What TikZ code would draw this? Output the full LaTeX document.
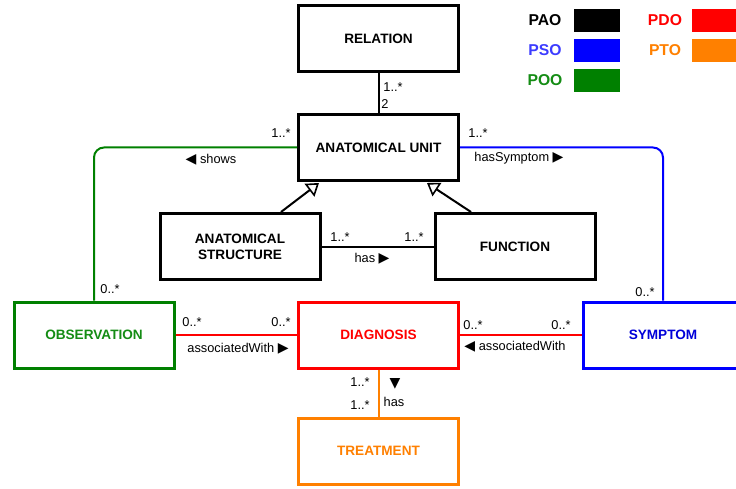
\documentclass[tikz,border=0pt]{standalone}
\usepackage{fontspec}
\setmainfont{Liberation Sans}
\newfontfamily\symfont{DejaVu Sans}
\usetikzlibrary{arrows.meta}
\definecolor{cgreen}{RGB}{0,128,0}
\definecolor{cgreentxt}{RGB}{20,140,20}
\definecolor{cblue}{RGB}{0,0,255}
\definecolor{cbluetxt}{RGB}{60,60,255}
\definecolor{cred}{RGB}{255,0,0}
\definecolor{corange}{RGB}{255,128,0}
\newcommand{\mytri}[1]{{\symfont\fontsize{14}{14}\selectfont #1}}
\begin{document}
\begin{tikzpicture}[x=1pt,y=-1pt,
  box/.style={draw,line width=3pt,minimum width=160pt,minimum height=66pt,
    font=\fontsize{13.6}{16}\selectfont\bfseries,align=center,fill=white,inner sep=0pt},
  lbl/.style={font=\fontsize{12.8}{14}\selectfont,inner sep=0pt},
  legtxt/.style={font=\fontsize{15.7}{18}\selectfont\bfseries,inner sep=0pt},
  legbox/.style={minimum width=46pt,minimum height=23pt,inner sep=0pt},
  conn/.style={line width=2pt},
  inh/.style={line width=2pt,-{Triangle[open,length=12pt,width=16pt,line width=1.6pt]}},
  tri/.style={font=\symfont\fontsize{14}{14}\selectfont,inner sep=0pt}
]
\useasboundingbox (0,0) rectangle (736,489);
\clip (0,0) rectangle (736,489);

% boxes
\node[box] (rel) at (378.5,38.5) {RELATION};
\node[box] (au) at (378.5,147.5) {ANATOMICAL UNIT};
\node[box] (as) at (240,246.5) {ANATOMICAL\\STRUCTURE};
\node[box] (fn) at (515,246.5) {FUNCTION};
\node[box,draw=cgreen,text=cgreentxt] (obs) at (94,335) {OBSERVATION};
\node[box,draw=cred,text=cred] (diag) at (378.5,335) {DIAGNOSIS};
\node[box,draw=cblue,text=cblue!85!black] (symp) at (663,335) {SYMPTOM};
\node[box,draw=corange,text=corange] (treat) at (378.5,451) {TREATMENT};

% legend
\node[legtxt] (lpao) at (545,20.5) {PAO};
\node[legbox,fill=black] (bpao) at (597,20.5) {};
\node[legtxt,text=cbluetxt] (lpso) at (545,50.5) {PSO};
\node[legbox,fill=cblue] (bpso) at (597,50.5) {};
\node[legtxt,text=cgreentxt] (lpoo) at (545,80.5) {POO};
\node[legbox,fill=cgreen] (bpoo) at (597,80.5) {};
\node[legtxt,text=cred] (lpdo) at (665,20.5) {PDO};
\node[legbox,fill=cred] (bpdo) at (715,20.5) {};
\node[legtxt,text=corange] (lpto) at (665,50.5) {PTO};
\node[legbox,fill=corange] (bpto) at (715,50.5) {};

% relation - au
\draw[conn] (rel.south) -- (au.north);
\node[lbl] (m1) at (393,87) {1..*};
\node[lbl] (m2) at (385,104) {2};

% inheritance
\coordinate (asT) at (281,212);
\coordinate (auL) at (319,183);
\coordinate (fnT) at (471,212);
\coordinate (auR) at (427,183);
\draw[inh] (asT) -- (auL);
\draw[inh] (fnT) -- (auR);

% has between structure and function
\draw[conn] (as.east) -- (fn.west);
\node[lbl] (h1) at (340,237) {1..*};
\node[lbl] (h2) at (414,237) {1..*};
\node[lbl] (h3) at (372,259) {has \mytri{▶}};

% shows (green)
\draw[conn,cgreen,rounded corners=10pt] (au.west) -| (obs.north);
\node[lbl] (s1) at (281,133) {1..*};
\node[lbl] (s2) at (211,160) {\mytri{◀} shows};
\node[lbl] (s3) at (110,289) {0..*};

% hasSymptom (blue)
\draw[conn,cblue,rounded corners=10pt] (au.east) -| (symp.north);
\node[lbl] (y1) at (478,133) {1..*};
\node[lbl] (y2) at (519,158) {hasSymptom \mytri{▶}};
\node[lbl] (y3) at (645,292) {0..*};

% observation - diagnosis
\draw[conn,cred] (obs.east) -- (diag.west);
\node[lbl] (o1) at (192,322) {0..*};
\node[lbl] (o2) at (281,322) {0..*};
\node[lbl] (o3) at (238,349) {associatedWith \mytri{▶}};

% diagnosis - symptom
\draw[conn,cred] (diag.east) -- (symp.west);
\node[lbl] (d1) at (473,325) {0..*};
\node[lbl] (d2) at (561,325) {0..*};
\node[lbl] (d3) at (515,347) {\mytri{◀} associatedWith};

% diagnosis - treatment
\draw[conn,corange] (diag.south) -- (treat.north);
\node[lbl] (t1) at (360,382) {1..*};
\node[lbl] (t2) at (360,405) {1..*};
\node[tri] (t3) at (395,384) {▼};
\node[lbl] (t4) at (394,402) {has};
\end{tikzpicture}
\end{document}
